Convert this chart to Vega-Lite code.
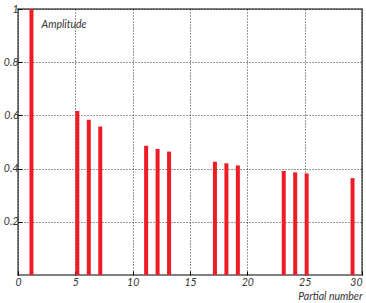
{
  "$schema": "https://vega.github.io/schema/vega-lite/v6.json",
  "width": 344,
  "height": 266,
  "autosize": {"type": "none"},
  "padding": {"left": 18, "top": 9, "right": 4, "bottom": 28},
  "background": "white",
  "config": {
    "view": {"stroke": "#808080", "strokeWidth": 2},
    "axis": {
      "labelFont": "Lato",
      "labelFontStyle": "italic",
      "labelFontSize": 10.5,
      "labelColor": "#333333",
      "titleFont": "Lato",
      "titleFontStyle": "italic",
      "titleFontWeight": "normal",
      "titleFontSize": 10.5,
      "titleColor": "#333333",
      "domain": false,
      "gridColor": "#000000",
      "gridDash": [1, 2],
      "gridOpacity": 0.8,
      "tickColor": "#000000",
      "tickSize": -4
    }
  },
  "data": {
    "values": [
      {"partial": 1, "amp": 1.0},
      {"partial": 5, "amp": 0.617},
      {"partial": 6, "amp": 0.584},
      {"partial": 7, "amp": 0.558},
      {"partial": 11, "amp": 0.486},
      {"partial": 12, "amp": 0.474},
      {"partial": 13, "amp": 0.464},
      {"partial": 17, "amp": 0.426},
      {"partial": 18, "amp": 0.42},
      {"partial": 19, "amp": 0.412},
      {"partial": 23, "amp": 0.391},
      {"partial": 24, "amp": 0.386},
      {"partial": 25, "amp": 0.382},
      {"partial": 29, "amp": 0.364}
    ]
  },
  "mark": {"type": "rule", "stroke": "#ee1c25", "strokeWidth": 4, "xOffset": 2},
  "encoding": {
    "x": {
      "field": "partial", "type": "quantitative",
      "scale": {"domain": [0, 30], "nice": false},
      "axis": {"values": [0, 5, 10, 15, 20, 25, 30], "title": "Partial number",
               "titleAlign": "right", "titleX": 344, "titleY": 24.5, "titleBaseline": "alphabetic",
               "labelPadding": 6, "labelFlush": false, "labelDx": -2,
               "labelAlign": {"condition": {"test": "datum.value == 30", "value": "right"}, "value": "center"}}
    },
    "y": {
      "field": "amp", "type": "quantitative",
      "scale": {"domain": [0, 1], "nice": false},
      "axis": {"values": [0.2, 0.4, 0.6, 0.8, 1], "title": "Amplitude",
               "titleAngle": 0, "titleAlign": "left", "titleX": 23, "titleY": 18.5, "titleBaseline": "alphabetic",
               "labelPadding": 4, "labelFlush": false, "labelExpr": "datum.value == 1 ? '1' : datum.label"}
    },
    "y2": {"datum": 0}
  }
}
